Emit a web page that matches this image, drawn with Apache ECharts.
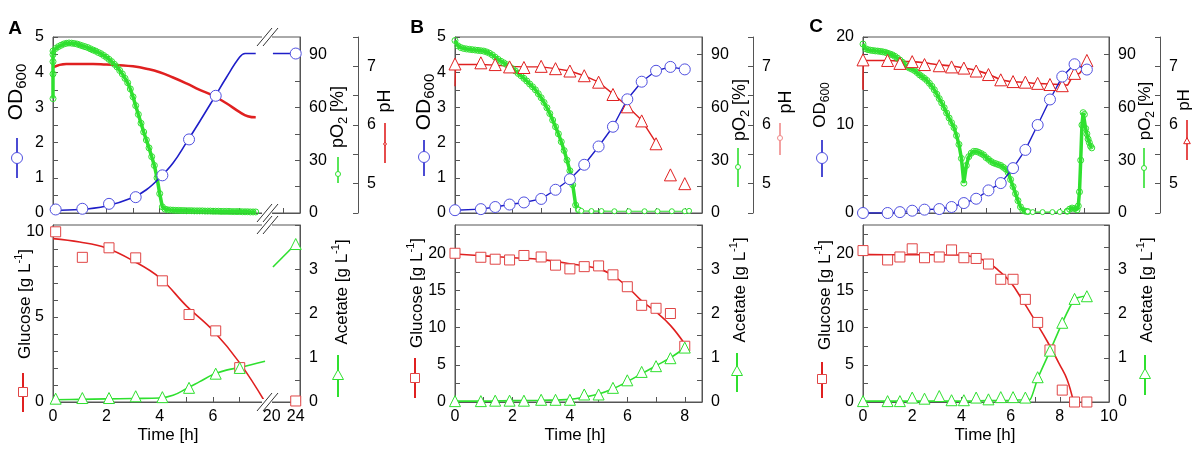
<!DOCTYPE html>
<html><head><meta charset="utf-8">
<script src="https://cdn.jsdelivr.net/npm/echarts@6/dist/echarts.min.js"></script>
<style>html,body{margin:0;padding:0;background:#fff}#c{width:1200px;height:450px}</style>
</head><body><div id="c"></div>
<script>
// ================= DATA =================
// ---- Panel A (time axis broken between ~8 h and 20 h) ----
const A_odT = [0.1, 1.1, 2.1, 3.1, 4.1, 5.1, 6.1, 24];
const A_od = [0.1, 0.12, 0.26, 0.45, 1.07, 2.09, 3.33, 4.53];
const A_odFitT = [0, 1, 2, 3, 3.5, 4, 4.5, 5, 5.5, 6, 6.5, 7, 7.2, 7.6];
const A_odFit = [0.08, 0.1, 0.2, 0.44, 0.66, 1.0, 1.42, 2.0, 2.6, 3.22, 3.85, 4.43, 4.53, 4.53];
const A_odTailT = [20.2, 24];
const A_odTail = [4.53, 4.53];
const A_po2InitT = [0, 0, 0, 0];
const A_po2Init = [65, 79, 86, 90];
const A_po2T0 = 0, A_po2Dt = 0.1; // sensor log sampling
const A_po2 = [92, 93.5, 94.5, 95.3, 96, 96.4, 96.6, 96.5, 96.3, 96,
  95.5, 95, 94.5, 94, 93.3, 92.6, 92, 91.2, 90.5, 89.5,
  88.5, 87.3, 86, 84.5, 83, 81, 79, 76.5, 74, 70.5,
  66, 61, 56, 51, 46, 41.5, 37, 32, 27, 20,
  11, 3.5, 2.2, 1.8, 1.7, 1.6, 1.5, 1.5, 1.4, 1.4,
  1.3, 1.3, 1.3, 1.2, 1.2, 1.2, 1.2, 1.1, 1.1, 1.1,
  1.0, 1.0, 1.0, 0.9, 0.9, 0.9, 0.9, 0.8, 0.8, 0.8,
  0.8, 0.7, 0.7, 0.7, 0.6, 0.6, 0.6];
const A_phT = [0, 0.5, 1, 1.5, 2, 2.5, 3, 3.5, 4, 4.5, 5, 5.5, 6, 6.5, 7, 7.3, 7.6];
const A_ph = [6.98, 7.04, 7.04, 7.04, 7.03, 7.02, 7.0, 6.96, 6.9, 6.81, 6.71, 6.6, 6.5, 6.37, 6.22, 6.15, 6.13];
const A_bT = [0.1, 1.1, 2.1, 3.1, 4.1, 5.1, 6.1, 7.0, 24];
const A_glc = [10.0, 8.5, 9.06, 8.47, 7.12, 5.14, 4.18, 2.02, 0.06];
const A_ace = [0.075, 0.09, 0.09, 0.13, 0.11, 0.32, 0.64, 0.77, 3.57];
const A_glcFitT = [0, 1, 2, 3, 4, 5, 6, 7, 7.95];
const A_glcFit = [9.6, 9.4, 9.05, 8.3, 7.3, 5.65, 4.2, 2.3, 0];
const A_aceFitT = [0, 1, 2, 3, 4, 4.5, 5, 5.5, 6, 6.5, 7, 7.95];
const A_aceFit = [0.05, 0.06, 0.07, 0.08, 0.09, 0.15, 0.3, 0.46, 0.62, 0.72, 0.78, 0.92];
const A_aceTailT = [20.2, 24];
const A_aceTail = [3.05, 3.57];

// ---- Panel B ----
const B_t = [0, 0.9, 1.4, 1.9, 2.4, 3.0, 3.5, 4.0, 4.5, 5.0, 5.5, 6.0, 6.5, 7.0, 7.5, 8.0];
const B_od = [0.08, 0.11, 0.17, 0.24, 0.3, 0.4, 0.66, 0.96, 1.37, 1.89, 2.45, 3.23, 3.73, 4.04, 4.15, 4.08];
const B_ph = [7.04, 7.06, 7.03, 6.99, 6.98, 7.0, 6.96, 6.92, 6.84, 6.73, 6.52, 6.31, 6.07, 5.68, 5.15, 5.0];
const B_phLineT = [0, 0.02, 0.9, 1.4, 1.9, 2.4, 3.0, 3.5, 4.0, 4.5, 5.0, 5.5, 6.0, 6.5, 7.0];
const B_phLine = [6.66, 7.03, 7.03, 7.02, 7.0, 6.99, 6.99, 6.96, 6.92, 6.84, 6.73, 6.53, 6.32, 6.08, 5.7];
const B_po2T0 = 0, B_po2Dt = 0.1;
const B_po2 = [98, 95, 94, 93.5, 93.2, 93, 92.8, 92.6, 92.4, 92.2,
  92, 91.5, 90.8, 89.8, 88.5, 87.3, 86.2, 85.3, 84.3, 83.2,
  82, 80.7, 79.3, 78, 76.5, 75, 73.3, 71.7, 70, 67.8,
  65.5, 62.8, 59.8, 56.5, 52.8, 49, 45, 40.5, 35.5, 30,
  24, 16, 4.5, 1.8];
const B_po2TailT = [4.3, 4.4, 4.75, 5.1, 5.55, 6.05, 6.6, 7.05, 7.55, 8.0, 8.15];
const B_po2Tail = [1.8, 1.2, 1.1, 1.1, 1.0, 1.0, 1.0, 1.0, 1.0, 1.0, 1.2];
const B_glc = [20.0, 19.46, 19.2, 19.1, 19.7, 19.5, 18.4, 17.9, 18.2, 18.3, 17.1, 15.5, 13.0, 12.6, 11.9, 7.5];
const B_ace = [0.02, 0.02, 0.03, 0.03, 0.03, 0.05, 0.05, 0.05, 0.17, 0.17, 0.32, 0.49, 0.68, 0.81, 0.99, 1.23];
const B_glcFitT = [0, 1, 2, 3, 4, 5, 5.5, 6, 6.5, 7, 7.5, 8];
const B_glcFit = [19.9, 19.65, 19.4, 19.15, 18.6, 17.9, 17.0, 15.5, 13.6, 12.1, 10.3, 7.8];
const B_aceFitT = [0, 1, 2, 3, 4, 4.5, 5, 5.5, 6, 6.5, 7, 7.5, 8];
const B_aceFit = [0.02, 0.02, 0.03, 0.04, 0.06, 0.11, 0.18, 0.3, 0.46, 0.64, 0.82, 1.0, 1.22];

// ---- Panel C ----
const C_t = [0, 1.0, 1.5, 2.0, 2.5, 3.1, 3.6, 4.1, 4.6, 5.1, 5.6, 6.1, 6.6, 7.1, 7.6, 8.1, 8.6, 9.1];
const C_od = [0, 0, 0.1, 0.26, 0.38, 0.45, 0.68, 1.13, 1.62, 2.57, 3.4, 5.1, 7.17, 10.0, 12.9, 15.5, 16.9, 16.3];
const C_ph = [7.11, 7.1, 7.05, 7.08, 7.03, 7.01, 6.99, 6.97, 6.92, 6.86, 6.77, 6.74, 6.73, 6.71, 6.69, 6.67, 6.88, 7.1];
const C_phLineT = [0, 0.02, 0.5, 1, 1.5, 2, 2.5, 3, 3.5, 4, 4.5, 5, 5.5, 6, 6.5, 7, 7.5, 8, 8.3, 8.45, 8.6, 8.8, 9.0, 9.15, 9.25];
const C_phLine = [6.6, 7.1, 7.1, 7.1, 7.09, 7.08, 7.06, 7.03, 7.01, 6.98, 6.94, 6.88, 6.79, 6.74, 6.73, 6.71, 6.7, 6.69, 6.68, 6.78, 6.85, 6.88, 7.0, 7.1, 7.05];
const C_po2T0 = 0, C_po2Dt = 0.1;
const C_po2 = [96, 93.4, 92.8, 92.5, 92.3, 92.1, 92, 91.8, 91.6, 91.3,
  90.8, 90.3, 89.8, 89, 88, 86.9, 85.7, 84.3, 83, 82.3,
  81.7, 80.9, 79.8, 78.5, 77.5, 76.5, 75.3, 73.7, 72, 70,
  67.5, 65, 62.5, 59.8, 56.8, 54, 51.3, 48.5, 44, 39,
  31, 17, 27, 32, 34, 35, 35, 34.5, 33.8, 33,
  31.5, 30.5, 29.3, 28.5, 28, 27.5, 27, 26, 25, 23,
  19, 15, 11, 7, 3.5, 1.5, 1.0, 0.8];
const C_po2GapT = [6.7, 6.9, 7.3, 7.7, 8.0, 8.3];
const C_po2Gap = [0.8, 0.5, 0.5, 0.5, 0.6, 1.0];
const C_po2TailT = [8.3, 8.4, 8.5, 8.6, 8.7, 8.75, 8.8, 8.85, 8.9, 8.95, 9.0, 9.05, 9.1, 9.15, 9.2, 9.25, 9.3];
const C_po2Tail = [1.0, 2.2, 2.8, 2.5, 1.8, 4, 12, 30, 50, 57, 56, 48, 45, 42, 40, 38, 37];
const C_glc = [20.36, 19.1, 19.5, 20.6, 19.4, 19.5, 20.45, 19.4, 19.3, 18.55, 16.5, 16.5, 13.8, 10.7, 7.0, 1.6, 0, 0];
const C_ace = [0.02, 0.02, 0.02, 0.1, 0.075, 0.135, 0.04, 0.04, 0.1, 0.06, 0.11, 0.11, 0.1, 0.56, 1.16, 1.79, 2.33, 2.39];
const C_glcFitT = [0, 1, 2, 3, 4, 4.5, 5, 5.5, 6, 6.5, 7, 7.5, 8, 8.3, 8.56];
const C_glcFit = [19.85, 19.8, 19.8, 19.8, 19.75, 19.5, 18.95, 17.7, 16.1, 13.6, 10.9, 8.1, 5.0, 3.0, 0];
const C_aceFitT = [0, 1, 2, 3, 4, 5, 6, 6.6, 6.8, 7.1, 7.6, 8.1, 8.6, 9.1];
const C_aceFit = [0.02, 0.02, 0.02, 0.02, 0.02, 0.03, 0.04, 0.05, 0.06, 0.53, 1.15, 1.79, 2.32, 2.4];

// ---- Axis ticks / labels ----
const T_A_x = [0, 1, 2, 3, 4, 5, 6, 7];
const L_A_x = [0, 2, 4, 6];
const L_A_xBreak = [20, 24];
const T_B_x = [0, 1, 2, 3, 4, 5, 6, 7, 8];
const L_B_x = [0, 2, 4, 6, 8];
const T_C_x = [0, 1, 2, 3, 4, 5, 6, 7, 8, 9, 10];
const L_C_x = [0, 2, 4, 6, 8, 10];
const T_od5 = [0, 0.5, 1, 1.5, 2, 2.5, 3, 3.5, 4, 4.5, 5];
const L_od5 = [0, 1, 2, 3, 4, 5];
const T_od20 = [0, 2, 4, 6, 8, 10, 12, 14, 16, 18, 20];
const L_od20 = [0, 10, 20];
const T_po2 = [0, 15, 30, 45, 60, 75, 90];
const L_po2 = [0, 30, 60, 90];
const T_ph = [4.5, 5, 5.5, 6, 6.5, 7, 7.5];
const L_ph = [5, 6, 7];
const T_glc10 = [0, 1, 2, 3, 4, 5, 6, 7, 8, 9, 10];
const L_glc10 = [0, 5, 10];
const T_glc20 = [0, 2.5, 5, 7.5, 10, 12.5, 15, 17.5, 20, 22.5];
const L_glc20 = [0, 5, 10, 15, 20];
const T_ace = [0, 0.5, 1, 1.5, 2, 2.5, 3, 3.5, 4];
const L_ace = [0, 1, 2, 3];

// ================= CHART =================
const FONT = '"Liberation Sans", Arial, Helvetica, sans-serif';
const AX = '#555';
const BLUE = '#1e1ec8', BLUE_MK = '#5050e0';
const GREEN = '#2fe02f';
const RED = '#e02020', RED_MK = '#e04545', PINK = '#f08a8a';

// broken time axis of panel A: times >= 20 h are compressed after the break
const A_BRK0 = 8.2, A_BRKK = 0.225;
const brkA = t => (t < 10 ? t : A_BRK0 + (t - 20) * A_BRKK);
const zip = (xs, ys, f) => xs.map((x, i) => [f ? f(x) : x, ys[i]]);
const seq = (t0, dt, ys) => ys.map((y, i) => [+(t0 + i * dt).toFixed(3), y]);

const grid = [
  {left: 53, top: 37, width: 247, height: 176},
  {left: 53, top: 225, width: 247, height: 177},
  {left: 455, top: 37, width: 247, height: 176},
  {left: 455, top: 225, width: 247, height: 177},
  {left: 863, top: 37, width: 246, height: 176},
  {left: 863, top: 225, width: 246, height: 177}
].map(g => Object.assign({show: true, borderColor: AX, borderWidth: 1, backgroundColor: 'transparent', containLabel: false, outerBoundsMode: 'none'}, g));

function xAx(gi, max, ticks, labels, fmt) {
  return {
    type: 'value', gridIndex: gi, min: 0, max: max,
    axisLine: {show: true, onZero: false, lineStyle: {color: AX, width: 1}},
    axisTick: {show: true, inside: true, length: 5, customValues: ticks, lineStyle: {color: AX}},
    axisLabel: labels ? {show: true, customValues: labels, formatter: fmt, color: '#000', fontSize: 16, fontFamily: FONT, margin: 7} : {show: false},
    splitLine: {show: false}
  };
}
function yAx(gi, min, max, ticks, labels, pos, offset) {
  return {
    type: 'value', gridIndex: gi, min: min, max: max, position: pos, offset: offset || 0,
    axisLine: {show: true, onZero: false, lineStyle: {color: AX, width: 1}},
    axisTick: {show: true, inside: true, length: 5, customValues: ticks, lineStyle: {color: AX}},
    axisLabel: {show: true, customValues: labels, color: '#000', fontSize: 16, fontFamily: FONT, margin: 9},
    splitLine: {show: false}
  };
}

const fmtA = v => (v > 7.9 ? String(Math.round(20 + (v - A_BRK0) / A_BRKK)) : String(Math.round(v)));

const xAxis = [
  xAx(0, 9.26, T_A_x.concat([brkA(22)]), null),
  xAx(1, 9.26, T_A_x, L_A_x.concat(L_A_xBreak.map(brkA)), fmtA),
  xAx(2, 8.6, T_B_x, null),
  xAx(3, 8.6, T_B_x, L_B_x),
  xAx(4, 10, T_C_x, null),
  xAx(5, 10, T_C_x, L_C_x)
];
const yAxis = [
  yAx(0, 0, 5, T_od5, L_od5, 'left'),          // 0 A OD
  yAx(0, 0, 100, T_po2, L_po2, 'right'),       // 1 A pO2
  yAx(0, 4.5, 7.5, T_ph, L_ph, 'right', 58),   // 2 A pH
  yAx(1, 0, 10.4, T_glc10, L_glc10, 'left'),   // 3 A glucose
  yAx(1, 0, 4, T_ace, L_ace, 'right'),         // 4 A acetate
  yAx(2, 0, 5, T_od5, L_od5, 'left'),          // 5 B OD
  yAx(2, 0, 100, T_po2, L_po2, 'right'),       // 6 B pO2
  yAx(2, 4.5, 7.5, T_ph, L_ph, 'right', 51),   // 7 B pH
  yAx(3, 0, 23.8, T_glc20, L_glc20, 'left'),   // 8 B glucose
  yAx(3, 0, 4, T_ace, L_ace, 'right'),         // 9 B acetate
  yAx(4, 0, 20, T_od20, L_od20, 'left'),       // 10 C OD
  yAx(4, 0, 100, T_po2, L_po2, 'right'),       // 11 C pO2
  yAx(4, 4.5, 7.5, T_ph, L_ph, 'right', 51),   // 12 C pH
  yAx(5, 0, 23.8, T_glc20, L_glc20, 'left'),   // 13 C glucose
  yAx(5, 0, 4, T_ace, L_ace, 'right')          // 14 C acetate
];

const series = [];
function line(xi, yi, data, color, width, extra) {
  series.push(Object.assign({type: 'line', xAxisIndex: xi, yAxisIndex: yi, data: data, symbol: 'none',
    lineStyle: {color: color, width: width}, itemStyle: {color: color}, silent: true, z: 3, animation: false}, extra || {}));
}
function marks(xi, yi, data, symbol, size, color, z) {
  series.push({type: 'scatter', xAxisIndex: xi, yAxisIndex: yi, data: data, symbol: symbol, symbolSize: size,
    itemStyle: {color: '#fff', borderColor: color, borderWidth: 1, opacity: 1}, silent: true, z: z || 6, animation: false});
}
// pO2 sensor log: dense samples form a thick band, sparse samples a thin line with small rings
function po2(xi, yi, data, isDense) {
  series.push({type: 'line', xAxisIndex: xi, yAxisIndex: yi, data: data, symbol: 'circle', symbolSize: isDense ? 6 : 5, showAllSymbol: true,
    lineStyle: {color: GREEN, width: isDense ? 3.5 : 1.2}, itemStyle: {color: isDense ? 'rgba(255,255,255,0)' : '#fff', borderColor: GREEN, borderWidth: 1},
    silent: true, z: 4, animation: false});
}

// Panel A top
line(0, 2, zip(A_phT, A_ph), RED, 2.5, {smooth: true, z: 2});
po2(0, 1, zip(A_po2InitT, A_po2Init).concat(seq(A_po2T0, A_po2Dt, A_po2)), true);
line(0, 0, zip(A_odFitT, A_odFit), BLUE, 1.6, {smooth: 0.4, z: 5});
line(0, 0, zip(A_odTailT, A_odTail, brkA), BLUE, 1.6, {z: 5, lineStyle: {color: BLUE, width: 1.6, type: [20, 7]}});
marks(0, 0, zip(A_odT, A_od, brkA), 'circle', 11, BLUE_MK);
// Panel A bottom
line(1, 3, zip(A_glcFitT, A_glcFit), RED, 1.6, {smooth: 0.4});
line(1, 4, zip(A_aceFitT, A_aceFit), GREEN, 1.6, {smooth: 0.4});
line(1, 4, zip(A_aceTailT, A_aceTail, brkA), GREEN, 1.6);
marks(1, 3, zip(A_bT, A_glc, brkA), 'rect', 10, RED_MK);
marks(1, 4, zip(A_bT, A_ace, brkA), 'triangle', 11, GREEN);

// Panel B top
line(2, 7, zip(B_phLineT, B_phLine), RED, 1.4, {z: 2});
po2(2, 6, seq(B_po2T0, B_po2Dt, B_po2), true);
po2(2, 6, zip(B_po2TailT, B_po2Tail), false);
marks(2, 7, zip(B_t, B_ph), 'triangle', 12, RED);
line(2, 5, zip(B_t, B_od), BLUE, 1.4, {z: 5});
marks(2, 5, zip(B_t, B_od), 'circle', 11, BLUE_MK);
// Panel B bottom
line(3, 8, zip(B_glcFitT, B_glcFit), RED, 1.6, {smooth: 0.4});
line(3, 9, zip(B_aceFitT, B_aceFit), GREEN, 1.6, {smooth: 0.4});
marks(3, 8, zip(B_t, B_glc), 'rect', 10, RED_MK);
marks(3, 9, zip(B_t, B_ace), 'triangle', 11, GREEN);

// Panel C top
line(4, 12, zip(C_phLineT, C_phLine), RED, 1.6, {z: 2, smooth: 0.2});
po2(4, 11, seq(C_po2T0, C_po2Dt, C_po2), true);
po2(4, 11, zip(C_po2GapT, C_po2Gap), false);
po2(4, 11, zip(C_po2TailT, C_po2Tail), true);
marks(4, 12, zip(C_t, C_ph), 'triangle', 12, RED);
line(4, 10, zip(C_t, C_od), BLUE, 1.4, {z: 5});
marks(4, 10, zip(C_t, C_od), 'circle', 11, BLUE_MK);
// Panel C bottom
line(5, 13, zip(C_glcFitT, C_glcFit), RED, 1.6, {smooth: 0.4});
line(5, 14, zip(C_aceFitT, C_aceFit), GREEN, 1.6, {smooth: 0.2});
marks(5, 13, zip(C_t, C_glc), 'rect', 10, RED_MK);
marks(5, 14, zip(C_t, C_ace), 'triangle', 11, GREEN);

// ---------- titles, legend glyphs, break marks ----------
function rich(fs, sfs) {
  return {
    t: {fontSize: fs, fontFamily: FONT, fontWeight: 'normal', fill: '#000', lineHeight: fs + 6, verticalAlign: 'middle'},
    b: {fontSize: sfs, fontFamily: FONT, fontWeight: 'normal', fill: '#000', lineHeight: fs + 6, verticalAlign: 'bottom'},
    p: {fontSize: sfs, fontFamily: FONT, fontWeight: 'normal', fill: '#000', lineHeight: fs + 6, verticalAlign: 'top'}
  };
}
function vt(x, y, text, fs, sfs) {
  return {type: 'text', x: x, y: y, rotation: Math.PI / 2, z: 100,
    style: {text: text, rich: rich(fs, sfs || Math.round(fs * 0.72)), align: 'center', verticalAlign: 'middle', fontSize: fs, fontFamily: FONT, fontWeight: 'normal', fill: '#000'}};
}
function ht(x, y, text, fs, weight) {
  return {type: 'text', x: x, y: y, z: 100, style: {text: text, fontSize: fs, fontFamily: FONT, fontWeight: weight || 'normal', align: 'center', verticalAlign: 'middle', fill: '#000'}};
}
function gLine(x, y1, y2, color, w) {
  return {type: 'line', z: 100, shape: {x1: x, y1: y1, x2: x, y2: y2}, style: {stroke: color, lineWidth: w || 1.6}};
}
function gCirc(x, y, r, color) {
  return {type: 'circle', z: 101, shape: {cx: x, cy: y, r: r}, style: {fill: '#fff', stroke: color, lineWidth: 1}};
}
function gSq(x, y, s, color) {
  return {type: 'rect', z: 101, shape: {x: x - s / 2, y: y - s / 2, width: s, height: s}, style: {fill: '#fff', stroke: color, lineWidth: 1}};
}
function gTri(x, y, s, color) {
  return {type: 'polygon', z: 101, shape: {points: [[x, y - s * 0.55], [x - s * 0.55, y + s * 0.45], [x + s * 0.55, y + s * 0.45]]}, style: {fill: '#fff', stroke: color, lineWidth: 1}};
}
function slash(x, y) {
  return [
    {type: 'rect', z: 99, shape: {x: x - 4, y: y - 3, width: 10, height: 6}, style: {fill: '#fff'}},
    {type: 'line', z: 100, shape: {x1: x - 9, y1: y + 9, x2: x + 6, y2: y - 9}, style: {stroke: '#333', lineWidth: 1}},
    {type: 'line', z: 100, shape: {x1: x - 3, y1: y + 9, x2: x + 12, y2: y - 9}, style: {stroke: '#333', lineWidth: 1}}
  ];
}

const OD = '{t|OD}{b|600}';
const PO2 = '{t|pO}{b|2}{t| [%]}';
const PH = '{t|pH}';
const GLC = '{t|Glucose [g L}{p|-1}{t|]}';
const ACE = '{t|Acetate [g L}{p|-1}{t|]}';

const graphic = [
  ht(15, 29, 'A', 19, 'bold'), ht(417, 28, 'B', 19, 'bold'), ht(816, 27, 'C', 19, 'bold'),
  // A top
  vt(16, 92, OD, 21, 15), gLine(17, 138, 178, BLUE), gCirc(17, 158, 5.5, BLUE_MK),
  vt(338, 117, PO2, 18, 13), gLine(338, 157, 183, GREEN), gCirc(338, 174, 2.5, GREEN),
  vt(385, 101, PH, 18), gLine(385, 123, 163, RED), gCirc(385, 144, 1.3, RED),
  // A bottom
  vt(25, 304, GLC, 17, 11), gLine(23, 373, 412, RED, 2), gSq(23, 392, 9, RED_MK),
  vt(342, 292, ACE, 17, 11), gLine(338, 355, 397, GREEN, 2), gTri(338, 375, 10, GREEN),
  ht(168, 435, 'Time [h]', 17),
  // B top
  vt(424, 102, OD, 21, 15), gLine(424, 140, 176, BLUE), gCirc(424, 157, 5.5, BLUE_MK),
  vt(740, 110, PO2, 18, 13), gLine(738, 148, 187, GREEN), gCirc(738, 167, 2.5, GREEN),
  vt(786, 102, PH, 18), gLine(780, 123, 155, PINK), gCirc(780, 138, 2.5, PINK),
  // B bottom
  vt(417, 293, GLC, 17, 11), gLine(415, 358, 398, RED, 2), gSq(415, 378, 9, RED_MK),
  vt(740, 290, ACE, 17, 11), gLine(737, 353, 392, GREEN, 2), gTri(737, 371, 10, GREEN),
  ht(575, 435, 'Time [h]', 17),
  // C top
  vt(820, 105, OD, 17, 12), gLine(822, 140, 177, BLUE), gCirc(822, 158, 5.5, BLUE_MK),
  vt(1145, 111, PO2, 17, 12), gLine(1144, 148, 188, GREEN), gCirc(1144, 168, 2.5, GREEN),
  vt(1184, 100, PH, 17), gLine(1187, 120, 160, RED), gTri(1187, 141, 6, RED),
  // C bottom
  vt(825, 295, GLC, 17, 11), gLine(822, 362, 398, RED, 2), gSq(822, 379, 9, RED_MK),
  vt(1147, 290, ACE, 17, 11), gLine(1145, 355, 395, GREEN, 2), gTri(1145, 374, 10, GREEN),
  ht(985, 435, 'Time [h]', 17)
].concat(slash(266, 37), slash(266, 213), slash(266, 225), slash(266, 402));

const chart = echarts.init(document.getElementById('c'), null, {renderer: 'canvas'});
chart.setOption({animation: false, backgroundColor: '#fff', grid: grid, xAxis: xAxis, yAxis: yAxis, series: series, graphic: graphic});
</script></body></html>
